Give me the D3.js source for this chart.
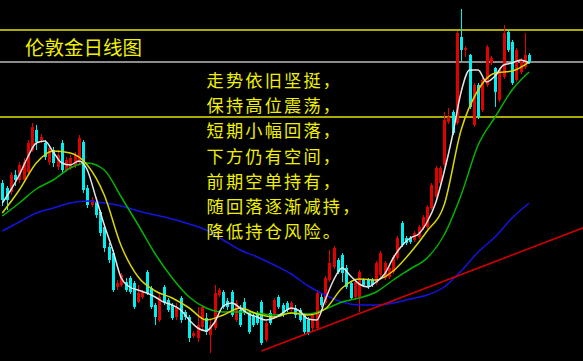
<!DOCTYPE html>
<html>
<head>
<meta charset="utf-8">
<script src="https://cdn.jsdelivr.net/npm/d3@7"></script>
<style>
  html, body { margin: 0; padding: 0; background: #000; }
  .canvas { width: 583px; height: 361px; }
</style>
</head>
<body>
<div class="canvas"></div>
<script>
// daily candles, oldest first (prices)
const opens = [1308.5,1306,1304,1312.5,1310,1310,1314,1325,1335,1330,1328.5,1319,1325,1316.5,1328.5,1315,1316,1317.5,1319,1329,
  1306,1297.5,1299,1294,1286.5,1276.5,1273.5,1256.5,1257.5,1259,1261,1258.5,1249,1251.5,1264,1256,1247.5,1240,1256.5,1250,
  1247.5,1241.5,1251,1244,1241.5,1232,1231,1236.5,1241,1232.5,1236,1252.5,1254,1249.5,1254,1240,1245,1249,1244,1242.5,
  1243.5,1249,1230,1243.5,1242.5,1251.5,1247.5,1248.5,1245,1246,1245,1242.5,1240,1236,1236,1251.5,1248.5,1260,1266.5,1270,
  1272.5,1266,1258.5,1251.5,1251.5,1260,1260,1260,1258.5,1262.5,1261,1261.5,1264,1271,1288.5,1281,1281,1280,1281.5,1286,
  1286.5,1296,1301.5,1308.5,1317.5,1339,1344,1338.5,1381.5,1375,1372.5,1337.5,1357.5,1345,1357.5,1368.5,1366,1350,1361.5,1384,
  1379,1360,1364,1366.5,1372.5];
const highs = [1310,1307,1314,1315,1319,1321,1330,1338.5,1337.5,1333,1330,1327.5,1326.5,1325,1330,1321.5,1322.5,1324,1332.5,1330,
  1307.5,1301.5,1300,1295,1288,1278.5,1275,1260,1263.5,1261,1262,1259.5,1257.5,1255,1265,1257,1248.5,1254,1257.5,1251,
  1248.5,1248.5,1252,1245,1242.5,1234.5,1246.5,1247.5,1243.5,1240,1257.5,1256,1255,1251,1255,1250,1247.5,1251,1245,1243.5,
  1244.5,1250,1240,1245,1251,1252.5,1248.5,1249.5,1249.5,1247.5,1246,1243.5,1241.5,1243.5,1255,1253.5,1262,1275,1277,1271,
  1273.5,1267.5,1259.5,1260,1265,1261,1261,1261,1269.5,1274.5,1269.5,1267,1272.5,1282,1289.5,1282,1282,1284.5,1287.5,1292.5,
  1297.5,1308.5,1317,1317,1344,1346,1345,1384.5,1395.5,1377,1373,1358.5,1358.5,1361,1377.5,1372,1366.5,1366,1387.5,1385,
  1380,1376,1371,1383.5,1373.5];
const lows = [1297,1295,1302.5,1307,1308.5,1308.5,1313,1324,1325,1328.5,1320,1317.5,1316.5,1315,1313,1314,1315,1316,1317.5,1303.5,
  1296,1296.5,1291,1282,1274,1268.5,1254,1255,1256.5,1254,1253,1245.5,1248.5,1250.5,1252.5,1245.5,1237.5,1239,1247.5,1244,
  1240,1240,1238.5,1240,1229,1231,1229,1235,1232.5,1223.5,1235,1251.5,1245.5,1245,1241.5,1239,1236.5,1242.5,1233,1236.5,
  1237.5,1227.5,1229,1237.5,1241.5,1245.5,1241.5,1244,1244,1241,1239,1233,1232.5,1234.5,1235,1246.5,1247.5,1259,1265.5,1263,
  1259,1255.5,1250,1250,1244,1256.5,1255.5,1256.5,1257.5,1261.5,1260,1260.5,1263,1270,1276.5,1277.5,1278,1279,1280.5,1285,
  1285.5,1295,1300.5,1307.5,1316.5,1338,1332.5,1337.5,1369,1371.5,1345.5,1336.5,1340.5,1344,1356.5,1367.5,1346.5,1349,1360.5,1374,
  1357.5,1359,1363,1365.5,1368];
const closes = [1300,1300,1312.5,1310,1317.5,1319,1328.5,1336.5,1329,1331.5,1321.5,1326,1318.5,1322.5,1315,1320,1321,1322.5,1331,1305,
  1297.5,1300,1292.5,1283.5,1276,1270,1255,1258.5,1262.5,1255,1254,1246.5,1253.5,1254,1253.5,1246.5,1241.5,1251.5,1248.5,1245,
  1241,1246.5,1240,1241.5,1231,1233.5,1237.5,1246.5,1234,1237.5,1253.5,1255,1246.5,1246.5,1242.5,1248.5,1237.5,1243.5,1234,1237.5,
  1238.5,1228.5,1238.5,1238.5,1250,1246.5,1242.5,1245,1248.5,1242.5,1240,1234,1233.5,1242.5,1253.5,1247.5,1261,1268.5,1276,1264,
  1263.5,1256.5,1251,1259,1264,1257.5,1256.5,1257.5,1268.5,1273.5,1268.5,1266,1271.5,1281,1277.5,1278.5,1279,1283.5,1286.5,1291.5,
  1296.5,1307.5,1316,1316,1340,1341.5,1333.5,1383.5,1375,1376,1346.5,1357.5,1341.5,1360,1376.5,1371,1354,1365,1383.5,1375,
  1358.5,1375,1370,1372.5,1369];

// moving averages
const ma5Idx = d3.range(0, 125, 2);
const ma5 = [1298.5,1305,1312.5,1321.5,1328.5,1329.5,1324,1318.5,1317.5,1319.5,1315,1301.5,1287.5,1275,1261,1256.5,1255,1253.5,1251.5,1249,
  1247.5,1245,1240,1236,1234.5,1239,1247,1248.5,1246,1243,1241.5,1240,1241,1243.5,1246,1244.5,1240.5,1240,1250,1260,
  1266,1262,1258,1256.5,1259,1263,1271,1277,1281,1283,1289,1298.5,1314,1332.5,1354,1365,1365,1359,1362,1367.5,
  1368.5,1370,1368.5];
const maIdx = d3.range(0, 125, 4);
const ma10 = [1293.5,1305,1318.5,1324.5,1323.5,1317.5,1302.5,1277,1261.5,1254.5,1251,1246,1240,1242.5,1246,1243,1241.5,1243.5,1242.5,1245.5,
  1256,1260.5,1260,1264.5,1273.5,1284.5,1297.5,1335,1355,1363.5,1364.5,1369];
const ma20 = [1292,1298.5,1305.5,1310,1316,1318.5,1315,1301.5,1287.5,1273,1261,1251.5,1246,1244,1244,1243.5,1242.5,1243.5,1243,1245.5,
  1249,1251,1254,1260,1265.5,1271,1282.5,1302.5,1327.5,1341.5,1355,1364];
const ma60 = [1284.5,1289,1293.5,1296,1298.5,1299.5,1298.5,1297,1294.5,1292.5,1290.5,1288,1285,1280,1275,1271.5,1267.5,1263,1257,1252.5,
  1249,1247.5,1247.5,1248.5,1250.5,1252.5,1256.5,1264.5,1274,1281.5,1291,1298.5];

// support line and horizontal levels
const trend = [[61, 1224.5], [137, 1286.3]];
const levels = [1385, 1369, 1341.5];
const levelColors = ['#e6e600', '#8c8c8c', '#e6e600'];

const title = '伦敦金日线图';
const notes = ['走势依旧坚挺，', '保持高位震荡，', '短期小幅回落，', '下方仍有空间，', '前期空单持有，', '随回落逐渐减持，', '降低持仓风险。'];

const width = 583;
const height = 361;

const svg = d3.select('.canvas')
    .append('svg')
    .attr('width', width)
    .attr('height', height)
    .style('display', 'block')
    .style('background', '#000');

const x = d3.scaleLinear()
    .domain([0, opens.length - 1])
    .range([2.3, 529.1]);

const y = d3.scaleLinear()
    .domain([1400, 1219.5])
    .range([0, height]);

// level lines
svg.selectAll('line.level')
    .data(levels)
    .enter()
    .append('line')
    .attr('class', 'level')
    .attr('x1', 0)
    .attr('x2', width)
    .attr('y1', d => y(d))
    .attr('y2', d => y(d))
    .attr('stroke', (d, i) => levelColors[i])
    .attr('stroke-width', (d, i) => i === 1 ? 2 : 1.5);

// candles
const candles = svg.append('g');
const idx = d3.range(opens.length);
const up = i => closes[i] >= opens[i];

candles.selectAll('line')
    .data(idx)
    .enter()
    .append('line')
    .attr('x1', i => Math.round(x(i)) + 0.5)
    .attr('x2', i => Math.round(x(i)) + 0.5)
    .attr('y1', i => y(highs[i]))
    .attr('y2', i => y(lows[i]))
    .attr('stroke', i => up(i) ? '#e80000' : '#00f0f0')
    .attr('stroke-width', 1);

candles.selectAll('rect')
    .data(idx)
    .enter()
    .append('rect')
    .attr('x', i => Math.round(x(i)) - 1)
    .attr('width', 3)
    .attr('y', i => y(Math.max(opens[i], closes[i])))
    .attr('height', i => Math.max(1, Math.abs(y(opens[i]) - y(closes[i]))))
    .attr('fill', i => up(i) ? '#e00000' : '#00f0f0');

// moving averages
const maLine = (xs, vals, color) => {
    const line = d3.line()
        .x((d, i) => x(xs[i]))
        .y(d => y(d))
        .curve(d3.curveMonotoneX);
    svg.append('path')
        .datum(vals)
        .attr('d', line)
        .attr('fill', 'none')
        .attr('stroke', color)
        .attr('stroke-width', 1.5);
};

maLine(maIdx, ma60, '#1414e0');
maLine(maIdx, ma20, '#00b400');
maLine(maIdx, ma10, '#d8d800');
maLine(ma5Idx, ma5, '#e6e6e6');

// trend line
svg.append('line')
    .attr('x1', x(trend[0][0]))
    .attr('y1', y(trend[0][1]))
    .attr('x2', x(trend[1][0]))
    .attr('y2', y(trend[1][1]))
    .attr('stroke', '#d00000')
    .attr('stroke-width', 1.5);

// texts
svg.append('text')
    .attr('x', 25)
    .attr('y', 55)
    .attr('fill', '#f0f000')
    .style('font-family', '"Noto Sans CJK SC"')
    .style('font-size', '19.5px')
    .text(title);

svg.append('g')
    .selectAll('text')
    .data(notes)
    .enter()
    .append('text')
    .attr('x', 206.5)
    .attr('y', (d, i) => 87 + i * 25.2)
    .attr('fill', '#f0f000')
    .style('font-family', '"Noto Sans CJK SC"')
    .style('font-size', '17.2px')
    .style('letter-spacing', '2.2px')
    .text(d => d);
</script>
</body>
</html>
